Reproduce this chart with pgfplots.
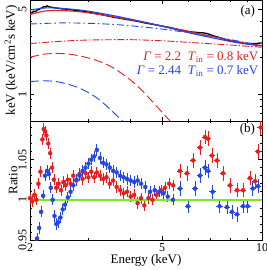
\documentclass[border=0pt]{standalone}
\usepackage{fontspec}
\setmainfont{Liberation Serif}
\usepackage{pgfplots}
\pgfplotsset{compat=1.18}
\definecolor{cred}{RGB}{232,30,30}
\definecolor{cblue}{RGB}{35,70,230}
\definecolor{cgreen}{RGB}{120,235,30}
\begin{document}
\begin{tikzpicture}
\pgfplotsset{
  every axis/.append style={
    scale only axis, width=232pt, xmode=log, xmin=2, xmax=10,
    tick align=inside, major tick length=4pt, minor tick length=2pt,
    xtick={2,5,10}, minor xtick={3,4,6,7,8,9},
    /pgf/number format/assume math mode=true,
    tick label style={font=\fontsize{12}{13}\selectfont},
    label style={font=\fontsize{13}{14}\selectfont},
    axis line style={line width=0.9pt},
    every tick/.style={black, line width=0.6pt},
    clip=true,
  },
  errpts/.style 2 args={only marks, no markers, error bars/.cd, x dir=both, x fixed relative=#1,
    y dir=both, y fixed=#2, error mark=none, error bar style={line width=0.7pt}},
}
% ---------------- top panel ----------------
\begin{axis}[name=top, at={(0,0)}, anchor=south west, height=121pt,
  ymode=log, ymin=0.6, ymax=6,
  ytick={1,5}, yticklabels={1,5}, minor ytick={0.6,0.7,0.8,0.9,2,3,4},
  xticklabels={},
  yticklabel style={rotate=90, anchor=south},
  ylabel={keV (keV/cm\textsuperscript{2}s keV)},
  ylabel style={yshift=-6pt},
]
% black data
\addplot[black, line width=1.3pt] coordinates {
(2.00,4.75) (2.03,4.70) (2.05,4.85) (2.08,4.80) (2.10,4.95) (2.13,5.00) (2.15,5.10) (2.18,5.20)
(2.20,5.30) (2.23,5.25) (2.25,5.38) (2.28,5.28) (2.30,5.25) (2.35,5.20) (2.40,5.15) (2.45,5.12)
(2.50,5.05) (2.55,5.06) (2.60,5.00) (2.65,4.98) (2.70,4.95) (2.75,4.93) (2.80,4.90) (2.90,4.84)
(3.00,4.75) (3.10,4.68) (3.20,4.60) (3.30,4.53) (3.40,4.45) (3.50,4.38) (3.60,4.30) (3.70,4.26)
(3.80,4.20) (3.90,4.14) (4.00,4.10) (4.12,4.04) (4.25,3.98) (4.37,3.91) (4.50,3.85) (4.62,3.80)
(4.75,3.75) (4.88,3.70) (5.00,3.65) (5.15,3.60) (5.30,3.55) (5.45,3.48) (5.60,3.42) (5.75,3.38)
(5.90,3.33) (6.05,3.29) (6.20,3.26) (6.35,3.24) (6.50,3.22) (6.65,3.21) (6.80,3.18) (6.95,3.12)
(7.10,3.05) (7.25,3.00) (7.40,2.95) (7.55,2.90) (7.70,2.85) (7.85,2.81) (8.00,2.78) (8.20,2.74)
(8.40,2.70) (8.60,2.67) (8.80,2.64) (9.00,2.63) (9.20,2.62) (9.40,2.62) (9.60,2.62) (9.80,2.64) (10.00,2.65)
};
% red model total
\addplot[cred, line width=1.1pt, smooth] coordinates {
(2.00,4.55) (2.20,4.85) (2.40,4.92) (2.70,4.85) (3.00,4.70) (3.50,4.40) (4.00,4.12) (4.50,3.88)
(5.00,3.66) (5.50,3.47) (6.00,3.30) (6.50,3.15) (7.00,3.02) (7.50,2.90) (8.00,2.80) (8.50,2.70)
(9.00,2.63) (9.50,2.57) (10.00,2.52)
};
% blue model total
\addplot[cblue, line width=1.1pt, smooth] coordinates {
(2.00,4.95) (2.20,5.15) (2.40,5.15) (2.70,5.02) (3.00,4.85) (3.50,4.50) (4.00,4.18) (4.50,3.90)
(5.00,3.64) (5.50,3.42) (6.00,3.23) (6.50,3.07) (7.00,2.94) (7.50,2.83) (8.00,2.73) (8.50,2.65)
(9.00,2.59) (9.50,2.54) (10.00,2.50)
};
% blue power law
\addplot[cblue, line width=0.9pt, smooth, dash pattern=on 7pt off 3pt on 1.5pt off 3pt] coordinates {
(2.0,3.80) (2.5,3.88) (3.0,3.85) (3.5,3.78) (4.0,3.68) (5.0,3.45) (6.0,3.22) (7.0,3.02)
(8.0,2.83) (9.0,2.66) (10.0,2.52)
};
% red power law
\addplot[cred, line width=0.9pt, smooth, dash pattern=on 7pt off 2pt on 1.5pt off 2pt] coordinates {
(2.0,2.62) (2.5,2.74) (3.0,2.80) (4.0,2.82) (5.0,2.76) (6.0,2.68) (7.0,2.61) (8.0,2.55)
(9.0,2.49) (10.0,2.44)
};
% red disk blackbody
\addplot[cred, line width=0.9pt, smooth, dash pattern=on 9pt off 4pt] coordinates {
(2.0,2.02) (2.2,2.14) (2.4,2.17) (2.6,2.15) (2.8,2.08) (3.0,1.99) (3.3,1.83) (3.6,1.62)
(4.0,1.32) (4.4,1.04) (4.8,0.80) (5.2,0.63) (5.4,0.56)
};
% blue disk blackbody
\addplot[cblue, line width=0.9pt, smooth, dash pattern=on 9pt off 4pt] coordinates {
(2.0,1.27) (2.2,1.29) (2.4,1.27) (2.6,1.21) (2.8,1.13) (3.0,1.03) (3.2,0.92) (3.4,0.80)
(3.6,0.69) (3.8,0.60) (3.9,0.56)
};
\node[anchor=north east, font=\fontsize{13}{14}\selectfont, inner sep=1pt] at (rel axis cs:0.975,0.965) {(a)};
\node[anchor=east, text=cred, font=\fontsize{13}{14}\selectfont, inner sep=0pt] at (rel axis cs:0.985,0.53)
  {\textit{Γ} = 2.2\enspace\textit{T}\textsubscript{in} = 0.8 keV};
\node[anchor=east, text=cblue, font=\fontsize{13}{14}\selectfont, inner sep=0pt] at (rel axis cs:0.985,0.41)
  {\textit{Γ} = 2.44\enspace\textit{T}\textsubscript{in} = 0.7 keV};
\end{axis}
% ---------------- bottom panel ----------------
\begin{axis}[name=bot, at={(0,0)}, anchor=north west, height=119pt,
  ymin=0.95, ymax=1.098,
  ytick={0.95,1,1.05}, yticklabels={0.95,1,1.05},
  minor ytick={0.96,0.97,0.98,0.99,1.01,1.02,1.03,1.04,1.06,1.07,1.08,1.09},
  xticklabels={2,5,10},
  yticklabel style={rotate=90, anchor=south},
  xlabel={Energy (keV)}, ylabel={Ratio},
  xlabel style={yshift=4pt},
  ylabel style={yshift=-6pt},
]
% red ratio, dense part
\addplot[cred, errpts={0.006}{0.007}] coordinates {
(2.00,1.002) (2.03,0.998) (2.06,1.006) (2.09,1.000) (2.12,1.020) (2.15,1.035) (2.18,1.075)
(2.20,1.088) (2.22,1.085) (2.24,1.080) (2.27,1.070) (2.30,1.058) (2.33,1.040) (2.36,1.025)
(2.40,1.015) (2.44,1.020) (2.48,1.012) (2.52,1.022) (2.56,1.018) (2.60,1.025) (2.65,1.020)
(2.70,1.030) (2.76,1.024) (2.82,1.032) (2.88,1.026) (2.94,1.033) (3.00,1.028) (3.06,1.035)
(3.12,1.028) (3.18,1.034) (3.25,1.030) (3.32,1.026) (3.40,1.028) (3.48,1.020) (3.56,1.024)
(3.65,1.016) (3.74,1.012) (3.83,1.008) (3.92,1.010) (4.02,1.004) (4.12,1.006) (4.22,0.996)
(4.32,1.002) (4.42,0.993) (4.55,1.002) (4.68,1.000) (4.82,1.006) (4.96,1.012) (5.10,1.015)
(5.25,1.020) (5.40,1.018)
};
% red ratio, binned part
\addplot[cred, errpts={0.022}{0.009}] coordinates {
(5.66,1.036) (5.94,1.033) (6.20,1.049) (6.50,1.065) (6.73,1.078) (6.88,1.076) (7.07,1.055)
(7.32,1.049) (7.63,1.033) (8.01,1.018) (8.41,1.012) (8.77,1.012) (9.20,1.027) (9.53,1.023)
(9.72,1.060) (9.91,1.090)
};
% blue ratio, dense part
\addplot[cblue, errpts={0.006}{0.007}] coordinates {
(2.08,0.945) (2.10,0.952) (2.13,0.965) (2.16,0.985) (2.19,1.005) (2.22,1.030) (2.25,1.036)
(2.28,1.032) (2.31,1.015) (2.34,1.000) (2.37,0.980) (2.40,0.970) (2.43,0.972) (2.47,0.978)
(2.51,0.988) (2.55,0.994) (2.60,1.003) (2.65,1.010) (2.70,1.018) (2.76,1.025) (2.82,1.030)
(2.88,1.036) (2.94,1.040) (3.00,1.045) (3.06,1.050) (3.12,1.054) (3.18,1.062) (3.25,1.052)
(3.32,1.046) (3.40,1.044) (3.48,1.040) (3.56,1.036) (3.65,1.034) (3.74,1.030) (3.83,1.028)
(3.92,1.026) (4.02,1.024) (4.12,1.022) (4.22,1.024) (4.32,1.020) (4.45,1.016) (4.60,1.010)
(4.75,1.012) (4.90,1.010) (5.05,1.008) (5.20,1.004) (5.39,1.000)
};
% blue ratio, binned part
\addplot[cblue, errpts={0.022}{0.009}] coordinates {
(5.66,1.014) (5.98,0.992) (6.28,1.014) (6.50,1.030) (6.73,1.040) (6.88,1.036) (7.10,1.010)
(7.45,0.992) (7.84,0.991) (8.12,0.985) (8.41,0.982) (8.77,0.992) (9.05,0.992) (9.38,1.014)
(9.72,1.017)
};
% unity line
\addplot[cgreen, line width=1.5pt] coordinates {(2,1) (10,1)};
\node[anchor=north east, font=\fontsize{13}{14}\selectfont, inner sep=1pt] at (rel axis cs:0.975,0.99) {(b)};
\end{axis}
\pgfresetboundingbox
\path[use as bounding box] (-30pt,-149pt) rectangle (237pt,121pt);
\end{tikzpicture}
\end{document}
